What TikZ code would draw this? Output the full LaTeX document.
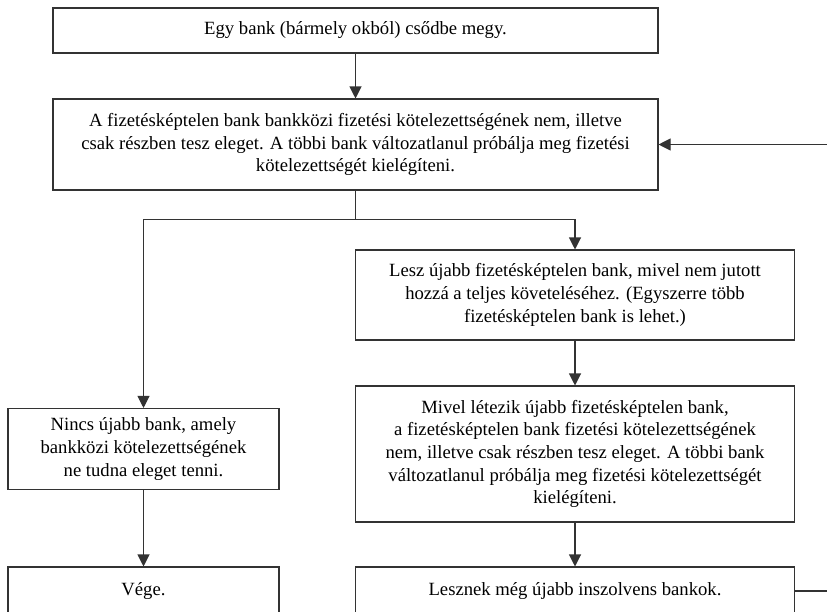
\documentclass[tikz,border=0pt]{standalone}
\usepackage{fontspec}
\setmainfont{Liberation Serif}
\usepackage{tikz}
\usetikzlibrary{arrows.meta}
\usetikzlibrary{positioning}
\definecolor{line}{rgb}{0.2,0.2,0.2}

\begin{document}
\begin{tikzpicture}[
			x=0.75pt,y=-0.75pt,
			box/.style={draw=line,line width=0.8pt,align=center,inner sep=0pt,
				font=\fontsize{14pt}{17pt}\selectfont},
			wide/.style={minimum width=453.75pt},
			mid/.style={minimum width=329.25pt},
			narrow/.style={minimum width=203.25pt},
			arr/.style={line,line width=0.8pt,-{Triangle[length=9pt,width=9pt]}},
			conn/.style={line,line width=0.8pt}
		]

		% Page frame and cut
		\useasboundingbox (0,0) rectangle (827,611);
		\clip (0,0) rectangle (827,611);

		% Boxes
		\node[box,wide,minimum height=33.75pt] (start) at (355.5,30.5)
		{Egy bank (bármely okból) csődbe megy.};
		\node[box,wide,minimum height=68.25pt] (pay) at (355.5,144.5)
		{A fizetésképtelen bank bankközi fizetési kötelezettségének nem, illetve\\
			csak részben tesz eleget. A többi bank változatlanul próbálja meg fizetési\\
			kötelezettségét kielégíteni.};
		\node[box,mid,minimum height=67.5pt] (newfail) at (575,295)
		{Lesz újabb fizetésképtelen bank, mivel nem jutott\\
			hozzá a teljes követeléséhez. (Egyszerre több\\
			fizetésképtelen bank is lehet.)};
		\node[box,narrow,minimum height=60.75pt] (nonew) at (143.5,449)
		{Nincs újabb bank, amely\\
			bankközi kötelezettségének\\
			ne tudna eleget tenni.};
		\node[box,mid,minimum height=102pt] (again) at (575,454)
		{Mivel létezik újabb fizetésképtelen bank,\\
			a fizetésképtelen bank fizetési kötelezettségének\\
			nem, illetve csak részben tesz eleget. A többi bank\\
			változatlanul próbálja meg fizetési kötelezettségét\\
			kielégíteni.};
		\node[box,narrow,minimum height=36pt] (vege) at (143.5,591)
		{Vége.};
		\node[box,mid,minimum height=36pt] (more) at (575,591)
		{Lesznek még újabb inszolvens bankok.};

		% Connectors
		\draw[arr] (start) -- (pay);
		\draw[conn] (pay.south) -- ++(0,29) coordinate (split);
		\draw[arr] (split) -| (newfail.north);
		\draw[arr] (split) -| (nonew.north);
		\draw[arr] (newfail) -- (again);
		\draw[arr] (again) -- (more);
		\draw[arr] (nonew) -- (vege);

		% Loop back (runs off the right edge)
		\coordinate (back) at (845,591);
		\draw[arr] (more.east) -- (back) |- (pay.east);

	\end{tikzpicture}
\end{document}
